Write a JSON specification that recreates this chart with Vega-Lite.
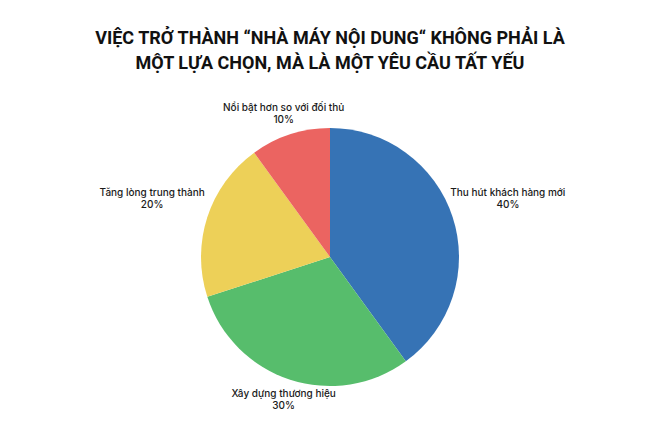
{
  "$schema": "https://vega.github.io/schema/vega-lite/v6.json",
  "autosize": {"type": "none"},
  "width": 660,
  "height": 334,
  "padding": {"top": 90, "left": 0, "right": 9, "bottom": 12},
  "background": "white",
  "title": {
    "text": ["VIỆC TRỞ THÀNH “NHÀ MÁY NỘI DUNG“ KHÔNG PHẢI LÀ", "MỘT LỰA CHỌN, MÀ LÀ MỘT YÊU CẦU TẤT YẾU"],
    "font": "Roboto",
    "fontSize": 18,
    "fontWeight": "bold",
    "color": "#111111",
    "lineHeight": 25,
    "anchor": "middle",
    "offset": 17
  },
  "data": {
    "values": [
      {"rank": 1, "category": "Thu hút khách hàng mới", "value": 40, "label": "Thu hút khách hàng mới\n40%", "side": "h"},
      {"rank": 2, "category": "Xây dựng thương hiệu", "value": 30, "label": "Xây dựng thương hiệu\n30%", "side": "v"},
      {"rank": 3, "category": "Tăng lòng trung thành", "value": 20, "label": "Tăng lòng trung thành\n20%", "side": "h"},
      {"rank": 4, "category": "Nổi bật hơn so với đối thủ", "value": 10, "label": "Nổi bật hơn so với đối thủ\n10%", "side": "v"}
    ]
  },
  "encoding": {
    "theta": {"field": "value", "type": "quantitative", "stack": true},
    "order": {"field": "rank", "type": "ordinal"}
  },
  "layer": [
    {
      "mark": {"type": "arc", "outerRadius": 129},
      "encoding": {
        "color": {
          "field": "category",
          "type": "nominal",
          "sort": ["Thu hút khách hàng mới", "Xây dựng thương hiệu", "Tăng lòng trung thành", "Nổi bật hơn so với đối thủ"],
          "scale": {"range": ["#3673B5", "#57BD6C", "#EDD058", "#EB6461"]},
          "legend": null
        }
      }
    },
    {
      "mark": {"type": "text", "clip": true, "radius": 187, "dy": -6, "font": "Inter", "fontSize": 10, "fontWeight": 500, "color": "#1a1a1a", "lineBreak": "\n", "lineHeight": 12, "align": "center", "baseline": "middle"},
      "encoding": {
        "text": {"condition": {"test": "datum.side === 'h'", "field": "label"}, "value": ""}
      }
    },
    {
      "mark": {"type": "text", "clip": true, "radius": 150, "dy": -6, "font": "Inter", "fontSize": 10, "fontWeight": 500, "color": "#1a1a1a", "lineBreak": "\n", "lineHeight": 12, "align": "center", "baseline": "middle"},
      "encoding": {
        "text": {"condition": {"test": "datum.side === 'v'", "field": "label"}, "value": ""}
      }
    }
  ],
  "config": {"view": {"stroke": null}}
}
